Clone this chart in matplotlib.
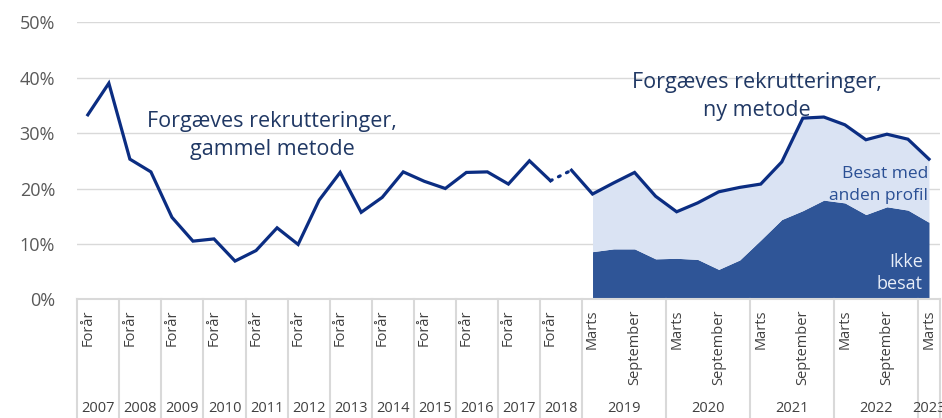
import matplotlib.pyplot as plt
from matplotlib.transforms import blended_transform_factory
import numpy as np

plt.rcParams['font.family'] = ['Open Sans', 'DejaVu Sans']

# categories: one slot per half year (old method) / per quarter (new method)
periods = ['Forår', ''] * 12 + ['Marts', '', 'September', ''] * 4 + ['Marts']
years = [str(y) for y in range(2007, 2024)]
year_slots = [2] * 12 + [4] * 4 + [1]

# forgæves rekrutteringer, gammel metode (pct.)
old_method = [33.3, 39.0, 25.3, 23.0, 14.8, 10.5, 10.9, 6.9, 8.8, 12.9, 9.9, 17.9,
              22.9, 15.7, 18.4, 23.0, 21.3, 20.0, 22.9, 23.0, 20.8, 25.0, 21.4]
# forgæves rekrutteringer, ny metode (pct.)
new_method = [23.3, 19.0, 21.0, 22.9, 18.6, 15.8, 17.4, 19.4, 20.2, 20.8, 24.8,
              32.7, 32.9, 31.5, 28.8, 29.8, 28.9, 25.3]
# heraf ikke besat (pct.)
ikke_besat = [8.6, 9.1, 9.1, 7.3, 7.4, 7.2, 5.4, 7.1, 10.7, 14.4, 16.0, 17.9,
              17.4, 15.3, 16.7, 16.1, 13.9]

navy = '#0b2d82'
dark = '#2f5597'
light = '#dae3f3'
grey = '#d9d9d9'
txt = '#404040'

fig = plt.figure(figsize=(9.42, 4.18), dpi=100)
ax = fig.add_axes([77.3 / 942, 1 - 299.3 / 418, (939.5 - 77.3) / 942, (299.3 - 22.3) / 418])

x_old = np.arange(len(old_method))
x_new = np.arange(len(old_method), len(old_method) + len(new_method))
x_area = x_new[1:]

ax.fill_between(x_area, 0, ikke_besat, color=dark, lw=0, zorder=1)
ax.fill_between(x_area, ikke_besat, new_method[1:], color=light, lw=0, zorder=1)
ax.plot(x_old, old_method, color=navy, lw=2.3, solid_joinstyle='miter', zorder=3)
ax.plot(x_new, new_method, color=navy, lw=2.3, solid_joinstyle='miter', zorder=3)
ax.plot([x_old[-1], x_new[0]], [old_method[-1], new_method[0]], color=navy, lw=2.3,
        ls=(0, (0.6, 2.2)), dash_capstyle='round', zorder=3)

ax.set_xlim(-0.5, len(periods) - 0.5)
ax.set_ylim(0, 50)
ax.set_yticks(range(0, 51, 10))
ax.set_yticklabels([f'{v}%' for v in range(0, 51, 10)], fontsize=13, color='#595959')
ax.yaxis.grid(True, color=grey, lw=1)
ax.set_axisbelow(True)
ax.tick_params(axis='y', length=0, pad=16)
ax.set_xticks([])
for s in ['top', 'right', 'left']:
    ax.spines[s].set_visible(False)
ax.spines['bottom'].set_color(grey)
ax.spines['bottom'].set_linewidth(1.5)

# multi-level category axis
trans = blended_transform_factory(ax.transData, fig.transFigure)
y_axis = 1 - 299.3 / 418
bounds = [-0.5]
for n in year_slots:
    bounds.append(bounds[-1] + n)
for b in bounds:
    ax.plot([b, b], [y_axis, 0], color=grey, lw=1.5, transform=trans, clip_on=False)
for i, yr in enumerate(years):
    ax.text((bounds[i] + bounds[i + 1]) / 2, 10 / 418, yr, transform=trans,
            ha='center', va='center', fontsize=10.5, color=txt, clip_on=False)
for i, p in enumerate(periods):
    if p:
        ax.text(i, y_axis - 10 / 418, p, transform=trans, rotation=90,
                ha='center', va='top', fontsize=10.5, color=txt, clip_on=False)

# annotations
ax.text(8.76, 29.5, 'Forgæves rekrutteringer,\ngammel metode', ha='center', va='center',
        fontsize=15.5, color='#203864', linespacing=1.45)
ax.text(31.8, 36.6, 'Forgæves rekrutteringer,\nny metode', ha='center', va='center',
        fontsize=15.5, color='#203864', linespacing=1.45)
ax.text(39.95, 20.6, 'Besat med\nanden profil', ha='right', va='center',
        fontsize=12.5, color='#2a4f94', linespacing=1.45)
ax.text(39.7, 4.8, 'Ikke\nbesat', ha='right', va='center',
        fontsize=13, color='#e8eef8', linespacing=1.3)

fig.savefig('out.png', dpi=100)
